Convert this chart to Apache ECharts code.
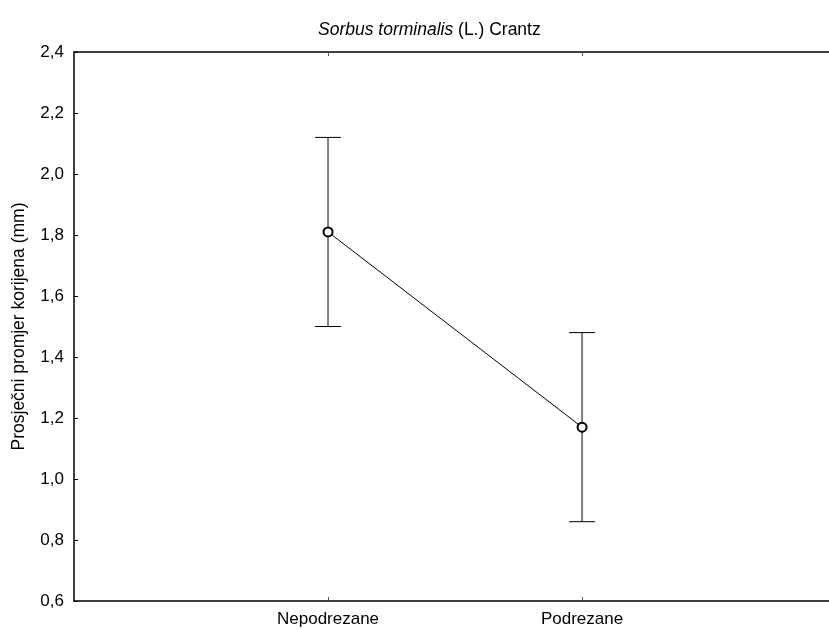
<!DOCTYPE html>
<html>
<head>
<meta charset="utf-8">
<script src="https://cdn.jsdelivr.net/npm/echarts@6/dist/echarts.min.js"></script>
<style>html,body{margin:0;padding:0;background:#fff}#c{width:829px;height:630px}</style>
</head>
<body>
<div id="c"></div>
<script>
const categories = ['Nepodrezane', 'Podrezane'];
const categoryPos = [1, 2];
const means = [1.81, 1.17];
const upper = [2.12, 1.48];
const lower = [1.50, 0.86];
const yTicks = [0.6, 0.8, 1.0, 1.2, 1.4, 1.6, 1.8, 2.0, 2.2, 2.4];

const font = 'Arial, "Liberation Sans", sans-serif';
const fs = 17;
const chart = echarts.init(document.getElementById('c'), null, {renderer: 'canvas'});

const lineData = categoryPos.map((x, i) => [x, means[i]]);
const errData = categoryPos.map((x, i) => [x, lower[i], upper[i]]);

chart.setOption({
  animation: false,
  backgroundColor: '#fff',
  title: {
    text: '{i|Sorbus torminalis} (L.) Crantz',
    left: 313,
    top: 16,
    textStyle: {
      fontFamily: font, fontSize: 17.5, fontWeight: 'normal', color: '#000',
      rich: {i: {fontFamily: font, fontSize: 17.5, fontStyle: 'italic', color: '#000'}}
    }
  },
  grid: {left: 74, right: 0, top: 52, bottom: 29, containLabel: false},
  xAxis: [{
    type: 'value', min: 0, max: 2.972, position: 'bottom',
    splitLine: {show: false},
    axisLine: {lineStyle: {color: '#000', width: 1.5}},
    axisTick: {inside: true, length: 4, customValues: categoryPos, lineStyle: {color: '#555'}},
    axisLabel: {customValues: categoryPos, color: '#000', fontFamily: font, fontSize: fs, margin: 10,
      formatter: v => { const i = categoryPos.indexOf(Math.round(v)); return i >= 0 ? categories[i] : ''; }}
  }, {
    type: 'value', min: 0, max: 2.972, position: 'top',
    splitLine: {show: false},
    axisLine: {lineStyle: {color: '#000', width: 1.5}},
    axisTick: {inside: true, length: 4, customValues: categoryPos, lineStyle: {color: '#555'}},
    axisLabel: {show: false}
  }],
  yAxis: {
    type: 'value', min: 0.6, max: 2.4, interval: 0.2,
    name: 'Prosječni promjer korijena (mm)', nameLocation: 'middle', nameGap: 46,
    nameTextStyle: {color: '#000', fontFamily: font, fontSize: 17.5},
    splitLine: {show: false},
    axisLine: {show: true, lineStyle: {color: '#000', width: 1.5}},
    axisTick: {show: true, inside: true, length: 4, lineStyle: {color: '#000'}},
    axisLabel: {customValues: yTicks, color: '#000', fontFamily: font, fontSize: fs, margin: 10,
      formatter: v => v.toFixed(1).replace('.', ',')}
  },
  series: [{
    type: 'custom',
    xAxisIndex: 0,
    z: 1,
    data: errData,
    renderItem: function (params, api) {
      const x = api.value(0);
      const lo = api.coord([x, api.value(1)]);
      const hi = api.coord([x, api.value(2)]);
      const hw = 13;
      return {
        type: 'group',
        children: [
          {type: 'line', shape: {x1: lo[0], y1: lo[1], x2: hi[0], y2: hi[1]}, style: {stroke: '#808080', lineWidth: 2}},
          {type: 'line', shape: {x1: hi[0] - hw, y1: hi[1], x2: hi[0] + hw, y2: hi[1]}, style: {stroke: '#000', lineWidth: 1}},
          {type: 'line', shape: {x1: lo[0] - hw, y1: lo[1], x2: lo[0] + hw, y2: lo[1]}, style: {stroke: '#000', lineWidth: 1}}
        ]
      };
    }
  }, {
    type: 'line',
    xAxisIndex: 0,
    z: 3,
    data: lineData,
    symbol: 'emptyCircle',
    symbolSize: 9,
    lineStyle: {color: '#000', width: 1},
    itemStyle: {color: '#000', borderColor: '#000', borderWidth: 1.5}
  }]
});
</script>
</body>
</html>
